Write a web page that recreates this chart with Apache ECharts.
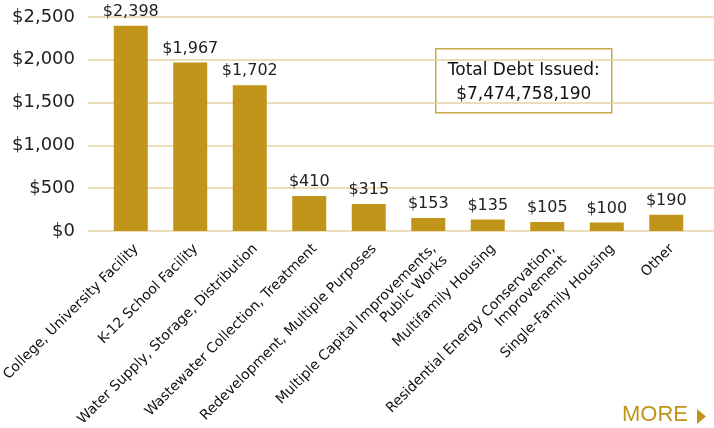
<!DOCTYPE html>
<html>
<head>
<meta charset="utf-8">
<script src="https://cdn.jsdelivr.net/npm/echarts@6/dist/echarts.min.js"></script>
<style>
  html, body { margin: 0; padding: 0; background: #fff; }
  #chart { width: 714px; height: 428px; }
</style>
</head>
<body>
<div id="chart"></div>
<script>
const categories = [
  'College, University Facility',
  'K-12 School Facility',
  'Water Supply, Storage, Distribution',
  'Wastewater Collection, Treatment',
  'Redevelopment, Multiple Purposes',
  'Multiple Capital Improvements,\nPublic Works',
  'Multifamily Housing',
  'Residential Energy Conservation,\nImprovement',
  'Single-Family Housing',
  'Other'
];
const debtMillions = [2398, 1967, 1702, 410, 315, 153, 135, 105, 100, 190];
const yTicks = [0, 500, 1000, 1500, 2000, 2500];
const totalText = 'Total Debt Issued:\n$7,474,758,190';

const gold = '#C0951A';
const font = '"DejaVu Sans", sans-serif';
const moreFont = '"Liberation Sans", Arial, sans-serif';

const chart = echarts.init(document.getElementById('chart'));
chart.setOption({
  animation: false,
  textStyle: { fontFamily: font },
  grid: [
    // gridlines + y labels, full width
    { left: 88, right: 0, top: 17, bottom: 197, outerBoundsMode: 'none', containLabel: false },
    // bars
    { left: 101, right: 18, top: 17, bottom: 197, outerBoundsMode: 'none', containLabel: false }
  ],
  xAxis: [
    { type: 'category', gridIndex: 0, data: [''], show: false },
    {
      type: 'category', gridIndex: 1, data: categories,
      axisLine: { show: false },
      axisTick: { show: false },
      axisLabel: {
        interval: 0, rotate: 45, margin: 10,
        fontSize: 14, color: '#111', fontFamily: font,
        lineHeight: 16, align: 'right', verticalAlign: 'top'
      }
    }
  ],
  yAxis: [
    {
      type: 'value', gridIndex: 0,
      min: yTicks[0], max: yTicks[yTicks.length - 1], interval: 500,
      axisLine: { show: false }, axisTick: { show: false },
      splitLine: { lineStyle: { color: '#E6D3A3', width: 1.5 } },
      axisLabel: {
        fontSize: 18, color: '#222', margin: 13, fontFamily: font,
        formatter: v => '$' + v.toLocaleString('en-US')
      }
    },
    {
      type: 'value', gridIndex: 1,
      min: yTicks[0], max: yTicks[yTicks.length - 1], interval: 500,
      show: false, splitLine: { show: false }
    }
  ],
  series: [{
    type: 'bar',
    xAxisIndex: 1, yAxisIndex: 1,
    data: debtMillions,
    barWidth: 34,
    itemStyle: { color: gold },
    label: {
      show: true, position: 'top', distance: 6,
      fontSize: 16, color: '#222', fontFamily: font,
      formatter: p => '$' + p.value.toLocaleString('en-US')
    }
  }],
  graphic: [
    {
      type: 'group', left: 435, top: 48,
      children: [
        {
          type: 'rect', shape: { x: 0, y: 0, width: 176, height: 64 },
          style: { fill: '#fff', stroke: '#C9A84A', lineWidth: 1.5 }
        },
        {
          type: 'text', x: 88, y: 34,
          style: {
            text: totalText, font: '17px ' + font, fill: '#111',
            align: 'center', verticalAlign: 'middle', lineHeight: 24
          }
        }
      ]
    },
    {
      type: 'text', left: 622, top: 404,
      style: { text: 'MORE', font: '22px ' + moreFont, fill: gold }
    },
    {
      type: 'polygon',
      shape: { points: [[697, 409], [706, 416.5], [697, 424]] },
      style: { fill: gold }
    }
  ]
});
</script>
</body>
</html>
